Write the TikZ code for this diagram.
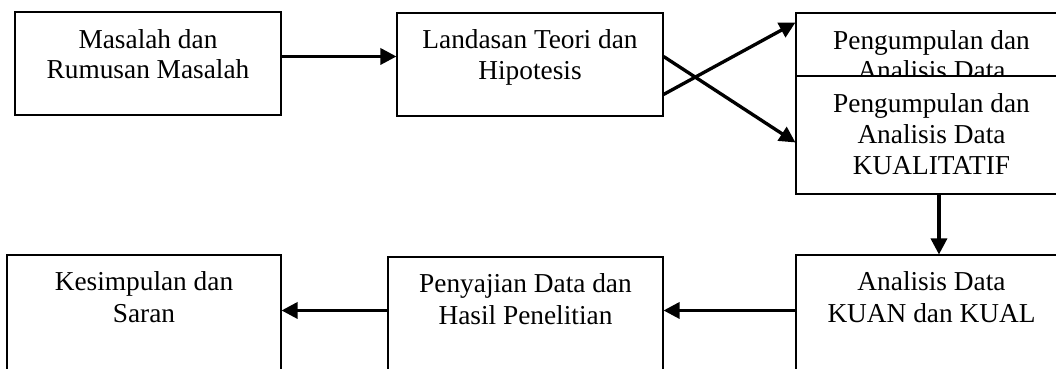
\documentclass[tikz,border=0pt]{standalone}
\usepackage{fontspec}
\setmainfont{Liberation Serif}
\usetikzlibrary{arrows.meta,fit,calc}
\begin{document}
\begin{tikzpicture}[x=0.75pt,y=-0.75pt,
  box/.style={draw=black, line width=0.8pt, fill=white, inner sep=0pt},
  txt/.style={align=center, inner sep=0pt, anchor=north, font=\fontsize{20.5}{22.8}\selectfont},
  txtb/.style={txt, font=\fontsize{20.5}{24}\selectfont},
  arr/.style={line width=2.5pt, -{Triangle[length=12pt,width=12pt]}}]
\useasboundingbox (0,0) rectangle (1056,368);
\clip (0,0) rectangle (1056,368);
\fill[white] (0,0) rectangle (1056,368);
% top row
\node[box, fit={(15,12) (281,115)}] (b1) {};
\node[txt] (t1) at ([yshift=-8.5pt]b1.north) {\rule{0pt}{19pt}Masalah dan\\Rumusan Masalah};
\node[box, fit={(397,13) (663,116)}] (b2) {};
\node[txt] (t2) at ([yshift=-8pt]b2.north) {\rule{0pt}{19pt}Landasan Teori dan\\Hipotesis};
\node[box, fit={(796,13) (1067,150)}] (b3) {};
\node[txt] (t3) at ([yshift=-8.5pt]b3.north) {\rule{0pt}{19pt}Pengumpulan dan\\Analisis Data};
\node[box, fit={(796,76) (1067,194)}] (b4) {};
\node[txt, font=\fontsize{20.5}{23.3}\selectfont] (t4) at ([yshift=-8.5pt]b4.north) {\rule{0pt}{19pt}Pengumpulan dan\\Analisis Data\\KUALITATIF};
% bottom row
\node[box, fit={(796,255) (1067,400)}] (b5) {};
\node[txtb] (t5) at ([yshift=-7.5pt]b5.north) {\rule{0pt}{19pt}Analisis Data\\KUAN dan KUAL};
\node[box, fit={(388,257) (663,400)}] (b6) {};
\node[txtb] (t6) at ([yshift=-7.8pt]b6.north) {\rule{0pt}{19pt}Penyajian Data dan\\Hasil Penelitian};
\node[box, fit={(7,255) (281,400)}] (b7) {};
\node[txtb] (t7) at ([yshift=-7.5pt]b7.north) {\rule{0pt}{19pt}Kesimpulan dan\\Saran};
% connectors
\draw[arr] ($(b1.north east)+(0,45)$) -- ($(b2.north west)+(0,44)$);
\draw[arr] ($(b2.north east)+(0,44)$) -- ($(b4.north west)+(0,67)$);
\draw[arr] ($(b2.north east)+(0,82)$) -- ($(b3.north west)+(0,10)$);
\draw[arr] ([xshift=5.6pt]b4.south) -- ([xshift=5.6pt]b5.north);
\draw[arr] ($(b5.north west)+(0,56)$) -- ($(b6.north east)+(0,54)$);
\draw[arr] ($(b6.north west)+(0,54)$) -- ($(b7.north east)+(0,56)$);
\end{tikzpicture}
\end{document}
